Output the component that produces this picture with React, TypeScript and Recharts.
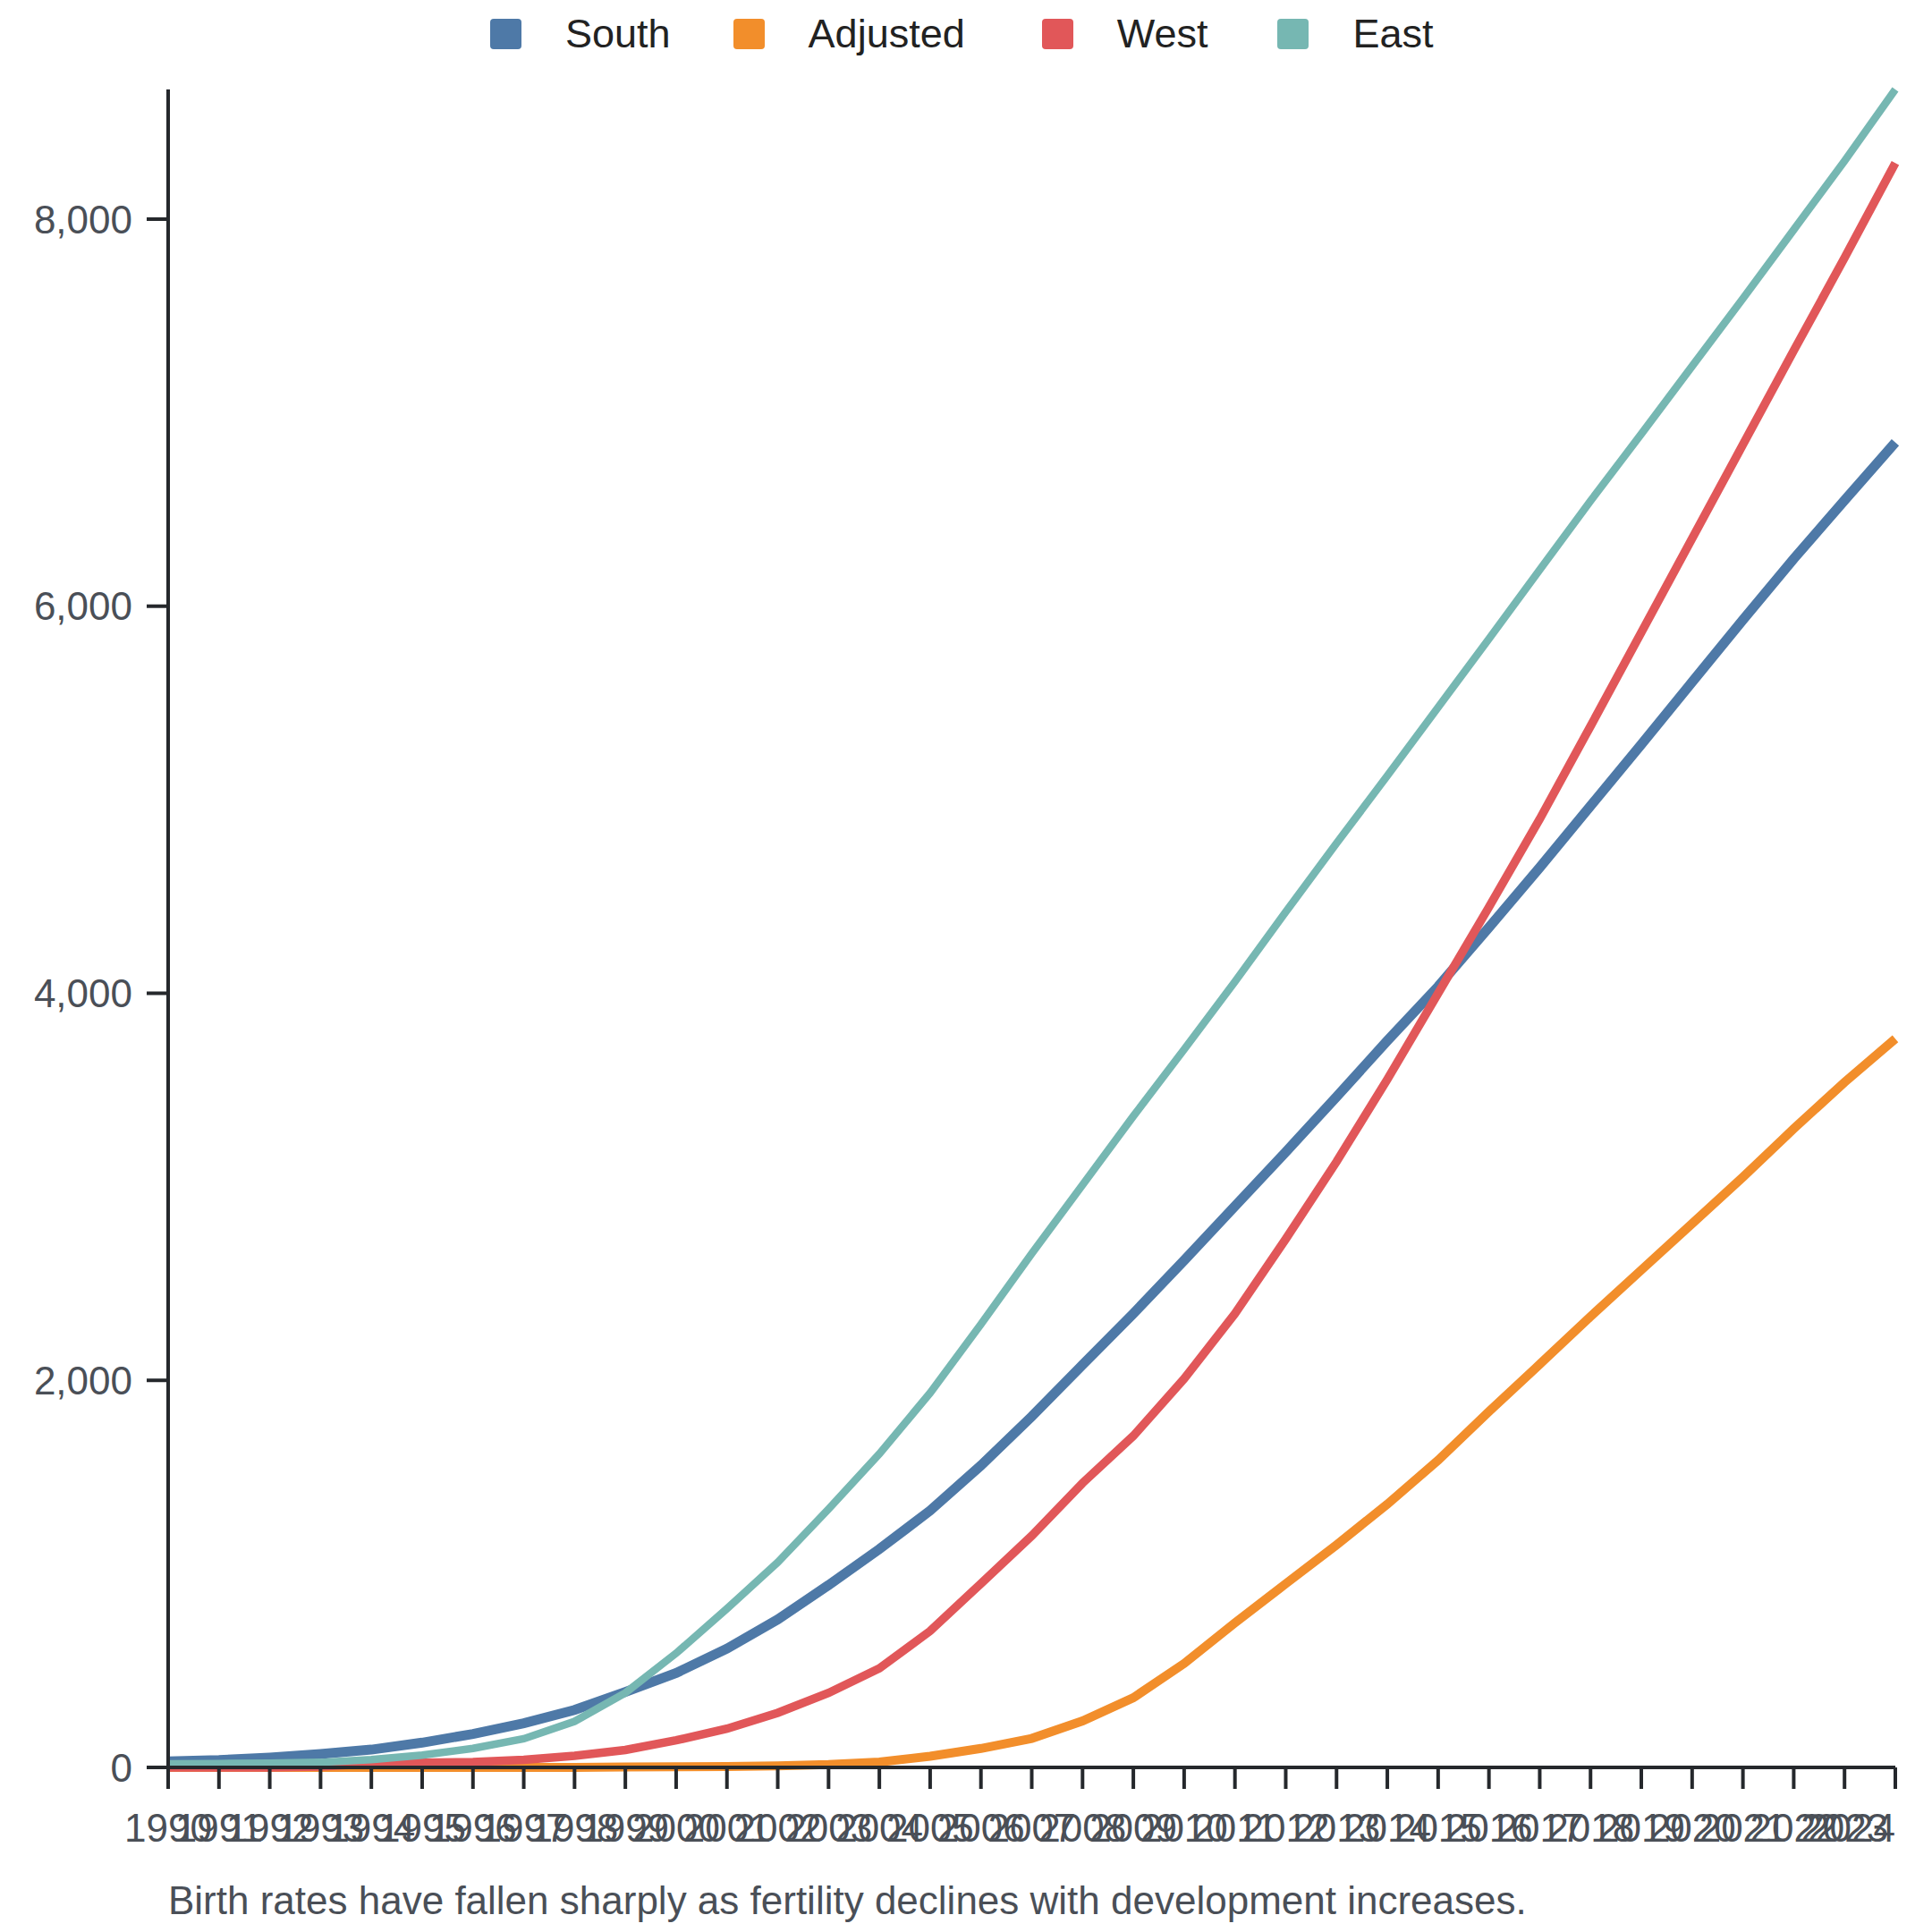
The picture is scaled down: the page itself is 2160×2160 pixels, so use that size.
import React from 'react';
import { LineChart, Line, XAxis, YAxis, Legend } from 'recharts';

const years = [
  '1990', '1991', '1992', '1993', '1994', '1995', '1996', '1997', '1998', '1999',
  '2000', '2001', '2002', '2003', '2004', '2005', '2006', '2007', '2008', '2009',
  '2010', '2011', '2012', '2013', '2014', '2015', '2016', '2017', '2018', '2019',
  '2020', '2021', '2022', '2023', '2024',
];

const southValues = [
  31, 38, 51, 69, 92, 128, 173, 228, 297, 390,
  488, 614, 765, 942, 1128, 1327, 1560, 1813, 2080, 2345,
  2620, 2900, 3180, 3465, 3755, 4035, 4340, 4650, 4968, 5286,
  5608, 5929, 6245, 6547, 6846,
];

const adjustedValues = [
  0, 0, 0, 0, 0, 0, 0, 0, 0, 2,
  3, 5, 8, 15, 28, 58, 98, 150, 240, 360,
  537, 747, 949, 1150, 1360, 1587, 1839, 2083, 2330, 2570,
  2810, 3050, 3300, 3540, 3765,
];

const westValues = [
  0, 0, 0, 5, 20, 24, 28, 39, 60, 90,
  140, 200, 282, 385, 512, 705, 950, 1197, 1469, 1713,
  2008, 2345, 2730, 3130, 3555, 4000, 4445, 4900, 5380, 5865,
  6350, 6835, 7320, 7800, 8290,
];

const eastValues = [
  18, 20, 22, 26, 40, 64, 98, 148, 238, 385,
  590, 820, 1060, 1335, 1620, 1935, 2290, 2655, 3010, 3365,
  3710, 4060, 4420, 4775, 5124, 5478, 5831, 6188, 6544, 6890,
  7240, 7590, 7945, 8300, 8670,
];

const seriesNames = ['South', 'Adjusted', 'West', 'East'];
const seriesColors = ['#4e79a7', '#f28e2b', '#e15759', '#76b7b2'];
const seriesWidths = [11, 10, 9.5, 8.5];
const yTicks = [0, 2000, 4000, 6000, 8000];
const caption =
  'Birth rates have fallen sharply as fertility declines with development increases.';

const seriesValues = [southValues, adjustedValues, westValues, eastValues];

const data = years.map((year, i) => {
  const row: Record<string, string | number> = { year };
  seriesNames.forEach((name, s) => {
    row[name] = seriesValues[s][i];
  });
  return row;
});

const FONT = '"Liberation Sans", Arial, Helvetica, sans-serif';
const AXIS = '#25282c';
const TEXT = '#4a4f57';

function XTick(props: any) {
  const { x, y, payload, index } = props;
  const last = index === years.length - 1;
  return (
    <text
      x={x}
      y={y}
      dy="0.71em"
      textAnchor={last ? 'end' : 'middle'}
      fill={TEXT}
      fontSize={44}
      fontFamily={FONT}
    >
      {payload.value}
    </text>
  );
}

function CaptionLabel(props: any) {
  const vb = props.viewBox || {};
  const x = typeof vb.x === 'number' ? vb.x : 180;
  const y = typeof vb.y === 'number' ? vb.y : 1968;
  return (
    <text x={x} y={y + 164} textAnchor="start" fill={TEXT} fontSize={44} fontFamily={FONT}>
      {caption}
    </text>
  );
}

const legendGaps = [70, 86, 78, 0];

function LegendContent() {
  return (
    <div
      style={{
        height: 92,
        boxSizing: 'border-box',
        paddingTop: 13,
        paddingLeft: 540,
        display: 'flex',
        fontFamily: FONT,
        fontSize: 45,
        lineHeight: '34px',
        color: '#222222',
        whiteSpace: 'nowrap',
      }}
    >
      {seriesNames.map((name, i) => (
        <div
          key={name}
          style={{
            display: 'flex',
            alignItems: 'flex-start',
            marginRight: legendGaps[i],
          }}
        >
          <svg width={35} height={34} style={{ display: 'block' }}>
            <rect x={0} y={0} width={35} height={34} rx={4} ry={4} fill={seriesColors[i]} />
          </svg>
          <span style={{ marginLeft: 49, display: 'block', height: 34 }}>{name}</span>
        </div>
      ))}
    </div>
  );
}

export default function App() {
  return (
    <div style={{ width: 2152, height: 2152 }}>
      <LineChart
        width={2152}
        height={2152}
        data={data}
        margin={{ top: 0, right: 41, bottom: 0, left: 0 }}
      >
        <Legend
          verticalAlign="top"
          align="left"
          wrapperStyle={{ left: 0, top: 0, width: 2152, height: 92, margin: 0, padding: 0 }}
          content={() => <LegendContent />}
        />
        <XAxis
          dataKey="year"
          interval={0}
          height={184}
          tickSize={24}
          tickMargin={28}
          axisLine={{ stroke: AXIS, strokeWidth: 4 }}
          tickLine={{ stroke: AXIS, strokeWidth: 4 }}
          tick={<XTick />}
          label={{ content: (p: any) => <CaptionLabel {...p} /> }}
        />
        <YAxis
          type="number"
          width={180}
          domain={[0, 'dataMax']}
          ticks={yTicks}
          tickSize={24}
          tickMargin={16}
          axisLine={{ stroke: AXIS, strokeWidth: 4 }}
          tickLine={{ stroke: AXIS, strokeWidth: 4 }}
          tick={{ fill: TEXT, fontSize: 44, fontFamily: FONT }}
          tickFormatter={(v: number) => v.toLocaleString('en-US')}
        />
        {seriesNames.map((name, i) => (
          <Line
            key={name}
            type="linear"
            dataKey={name}
            stroke={seriesColors[i]}
            strokeWidth={seriesWidths[i]}
            dot={false}
            activeDot={false}
            isAnimationActive={false}
          />
        ))}
      </LineChart>
    </div>
  );
}
